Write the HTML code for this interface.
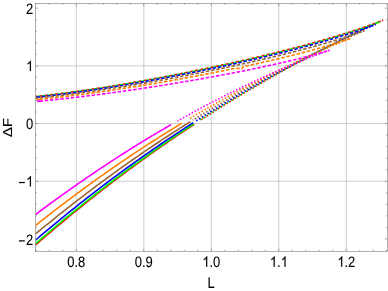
<!DOCTYPE html>
<html><head><meta charset="utf-8"><title>plot</title>
<style>
html,body{margin:0;padding:0;background:#fff;}
body{width:388px;height:291px;overflow:hidden;font-family:"Liberation Sans",sans-serif;}
svg{display:block;will-change:transform;}
tspan.h{fill:none;stroke:none;}
path.g1{fill:#000;stroke:#000;stroke-width:14;}
text{font-family:"Liberation Sans",sans-serif;font-size:15.1px;fill:#000;stroke:#000;stroke-width:0.1px;text-rendering:geometricPrecision;}
</style></head><body>
<svg width="388" height="291" viewBox="0 0 388 291">
<rect width="388" height="291" fill="#fff"/>
<g stroke="#bebebe" stroke-width="0.75" fill="none">
<line x1="76.30" x2="76.30" y1="3.5" y2="251.3"/>
<line x1="143.80" x2="143.80" y1="3.5" y2="251.3"/>
<line x1="211.30" x2="211.30" y1="3.5" y2="251.3"/>
<line x1="278.80" x2="278.80" y1="3.5" y2="251.3"/>
<line x1="346.30" x2="346.30" y1="3.5" y2="251.3"/>
<line x1="35.5" x2="387.3" y1="65.85" y2="65.85"/>
<line x1="35.5" x2="387.3" y1="123.55" y2="123.55"/>
<line x1="35.5" x2="387.3" y1="181.25" y2="181.25"/>
</g>
<clipPath id="cp"><rect x="35.5" y="3.5" width="351.8" height="247.8"/></clipPath>
<g fill="none" stroke-width="1.6" stroke-linejoin="round" clip-path="url(#cp)">
<path d="M35.50 244.93 L37.03 243.60 L38.55 242.28 L40.08 240.96 L41.60 239.64 L43.13 238.33 L44.66 237.02 L46.18 235.71 L47.71 234.41 L49.23 233.11 L50.76 231.81 L52.29 230.52 L53.81 229.22 L55.34 227.94 L56.86 226.65 L58.39 225.37 L59.92 224.09 L61.44 222.82 L62.97 221.55 L64.49 220.28 L66.02 219.02 L67.55 217.76 L69.07 216.50 L70.60 215.24 L72.12 213.99 L73.65 212.74 L75.17 211.50 L76.70 210.26 L78.23 209.02 L79.75 207.78 L81.28 206.55 L82.80 205.32 L84.33 204.10 L85.86 202.88 L87.38 201.66 L88.91 200.44 L90.43 199.23 L91.96 198.02 L93.49 196.82 L95.01 195.61 L96.54 194.41 L98.06 193.22 L99.59 192.03 L101.12 190.84 L102.64 189.65 L104.17 188.47 L105.69 187.29 L107.22 186.11 L108.75 184.94 L110.27 183.77 L111.80 182.60 L113.32 181.44 L114.85 180.28 L116.38 179.12 L117.90 177.97 L119.43 176.82 L120.95 175.67 L122.48 174.53 L124.01 173.38 L125.53 172.25 L127.06 171.11 L128.58 169.98 L130.11 168.85 L131.64 167.73 L133.16 166.61 L134.69 165.49 L136.21 164.37 L137.74 163.26 L139.27 162.15 L140.79 161.04 L142.32 159.94 L143.84 158.84 L145.37 157.74 L146.90 156.65 L148.42 155.56 L149.95 154.47 L151.47 153.39 L153.00 152.31 L154.52 151.23 L156.05 150.15 L157.58 149.08 L159.10 148.01 L160.63 146.95 L162.15 145.89 L163.68 144.83 L165.21 143.77 L166.73 142.72 L168.26 141.67 L169.78 140.62 L171.31 139.57 L172.84 138.53 L174.36 137.49 L175.89 136.46 L177.41 135.42 L178.94 134.40 L180.47 133.37 L181.99 132.35 L183.52 131.32 L185.04 130.31 L186.57 129.29 L188.10 128.28 L189.62 127.27 L191.15 126.26 L192.67 125.26 L194.20 124.26" stroke="#ff0000"/>
<path d="M201.20 119.71 L202.71 118.73 L204.23 117.76 L205.74 116.79 L207.26 115.82 L208.77 114.85 L210.29 113.89 L211.80 112.93 L213.32 111.97 L214.83 111.01 L216.35 110.06 L217.86 109.11 L219.38 108.16 L220.89 107.22 L222.41 106.28 L223.92 105.34 L225.44 104.40 L226.95 103.47 L228.47 102.54 L229.98 101.61 L231.50 100.68 L233.01 99.76 L234.53 98.84 L236.04 97.92 L237.56 97.01 L239.07 96.09 L240.59 95.18 L242.10 94.28 L243.62 93.37 L245.13 92.47 L246.65 91.57 L248.16 90.67 L249.68 89.77 L251.19 88.88 L252.71 87.99 L254.22 87.10 L255.74 86.22 L257.25 85.33 L258.77 84.45 L260.28 83.58 L261.80 82.70 L263.31 81.83 L264.83 80.96 L266.35 80.09 L267.86 79.22 L269.38 78.36 L270.89 77.50 L272.40 76.64 L273.92 75.78 L275.44 74.93 L276.95 74.07 L278.46 73.22 L279.98 72.38 L281.50 71.53 L283.01 70.69 L284.52 69.85 L286.04 69.01 L287.56 68.17 L289.07 67.34 L290.58 66.51 L292.10 65.68 L293.62 64.85 L295.13 64.03 L296.64 63.20 L298.16 62.38 L299.68 61.56 L301.19 60.75 L302.70 59.93 L304.22 59.12 L305.74 58.31 L307.25 57.51 L308.76 56.70 L310.28 55.90 L311.80 55.10 L313.31 54.30 L314.82 53.50 L316.34 52.71 L317.86 51.91 L319.37 51.12 L320.88 50.34 L322.40 49.55 L323.91 48.77 L325.43 47.98 L326.94 47.21 L328.46 46.43 L329.98 45.65 L331.49 44.88 L333.00 44.11 L334.52 43.34 L336.03 42.58 L337.55 41.81 L339.06 41.05 L340.58 40.29 L342.10 39.53 L343.61 38.78 L345.12 38.03 L346.64 37.28 L348.15 36.53 L349.67 35.78 L351.19 35.04 L352.70 34.30 L354.22 33.56 L355.73 32.83 L357.25 32.10 L358.76 31.37 L360.27 30.64 L361.79 29.91 L363.31 29.19 L364.82 28.48 L366.34 27.76 L367.85 27.05 L369.37 26.34 L370.88 25.64 L372.39 24.94 L373.91 24.24 L375.43 23.55 L376.94 22.87 L378.46 22.19 L379.97 21.51 L381.49 20.85 L383.00 20.20" stroke="#ff0000" stroke-dasharray="1.55 1.78" stroke-dashoffset="0"/>
<path d="M35.50 96.52 L37.01 96.36 L38.52 96.20 L40.03 96.03 L41.54 95.87 L43.05 95.70 L44.57 95.53 L46.08 95.35 L47.59 95.18 L49.10 95.00 L50.61 94.82 L52.12 94.64 L53.63 94.46 L55.14 94.27 L56.65 94.08 L58.16 93.89 L59.67 93.70 L61.18 93.51 L62.70 93.32 L64.21 93.12 L65.72 92.92 L67.23 92.72 L68.74 92.52 L70.25 92.32 L71.76 92.11 L73.27 91.90 L74.78 91.70 L76.29 91.48 L77.80 91.27 L79.32 91.06 L80.83 90.84 L82.34 90.63 L83.85 90.41 L85.36 90.19 L86.87 89.97 L88.38 89.74 L89.89 89.52 L91.40 89.29 L92.91 89.07 L94.42 88.84 L95.93 88.61 L97.45 88.37 L98.96 88.14 L100.47 87.90 L101.98 87.67 L103.49 87.43 L105.00 87.19 L106.51 86.95 L108.02 86.71 L109.53 86.47 L111.04 86.22 L112.55 85.97 L114.07 85.73 L115.58 85.48 L117.09 85.23 L118.60 84.98 L120.11 84.73 L121.62 84.47 L123.13 84.22 L124.64 83.96 L126.15 83.70 L127.66 83.44 L129.17 83.18 L130.68 82.92 L132.20 82.66 L133.71 82.40 L135.22 82.13 L136.73 81.87 L138.24 81.60 L139.75 81.33 L141.26 81.06 L142.77 80.79 L144.28 80.52 L145.79 80.25 L147.30 79.97 L148.82 79.70 L150.33 79.42 L151.84 79.14 L153.35 78.86 L154.86 78.58 L156.37 78.30 L157.88 78.02 L159.39 77.74 L160.90 77.45 L162.41 77.17 L163.92 76.88 L165.43 76.60 L166.95 76.31 L168.46 76.02 L169.97 75.73 L171.48 75.44 L172.99 75.14 L174.50 74.85 L176.01 74.56 L177.52 74.26 L179.03 73.96 L180.54 73.67 L182.05 73.37 L183.57 73.07 L185.08 72.77 L186.59 72.47 L188.10 72.16 L189.61 71.86 L191.12 71.55 L192.63 71.25 L194.14 70.94 L195.65 70.63 L197.16 70.32 L198.67 70.01 L200.18 69.70 L201.70 69.39 L203.21 69.08 L204.72 68.76 L206.23 68.45 L207.74 68.13 L209.25 67.81 L210.76 67.49 L212.27 67.17 L213.78 66.85 L215.29 66.53 L216.80 66.21 L218.32 65.88 L219.83 65.56 L221.34 65.23 L222.85 64.90 L224.36 64.57 L225.87 64.24 L227.38 63.91 L228.89 63.58 L230.40 63.25 L231.91 62.91 L233.42 62.58 L234.93 62.24 L236.45 61.90 L237.96 61.56 L239.47 61.22 L240.98 60.88 L242.49 60.54 L244.00 60.20 L245.51 59.85 L247.02 59.50 L248.53 59.16 L250.04 58.81 L251.55 58.46 L253.07 58.11 L254.58 57.75 L256.09 57.40 L257.60 57.04 L259.11 56.69 L260.62 56.33 L262.13 55.97 L263.64 55.61 L265.15 55.24 L266.66 54.88 L268.17 54.52 L269.68 54.15 L271.20 53.78 L272.71 53.41 L274.22 53.04 L275.73 52.67 L277.24 52.29 L278.75 51.92 L280.26 51.54 L281.77 51.16 L283.28 50.78 L284.79 50.40 L286.30 50.01 L287.82 49.63 L289.33 49.24 L290.84 48.85 L292.35 48.46 L293.86 48.07 L295.37 47.67 L296.88 47.27 L298.39 46.88 L299.90 46.48 L301.41 46.07 L302.92 45.67 L304.43 45.26 L305.95 44.86 L307.46 44.45 L308.97 44.03 L310.48 43.62 L311.99 43.20 L313.50 42.78 L315.01 42.36 L316.52 41.94 L318.03 41.52 L319.54 41.09 L321.05 40.66 L322.57 40.23 L324.08 39.79 L325.59 39.35 L327.10 38.91 L328.61 38.47 L330.12 38.03 L331.63 37.58 L333.14 37.13 L334.65 36.68 L336.16 36.22 L337.67 35.76 L339.18 35.30 L340.70 34.84 L342.21 34.37 L343.72 33.90 L345.23 33.43 L346.74 32.95 L348.25 32.47 L349.76 31.98 L351.27 31.50 L352.78 31.01 L354.29 30.51 L355.80 30.01 L357.32 29.51 L358.83 29.01 L360.34 28.50 L361.85 27.98 L363.36 27.46 L364.87 26.94 L366.38 26.41 L367.89 25.88 L369.40 25.34 L370.91 24.80 L372.42 24.25 L373.93 23.70 L375.45 23.14 L376.96 22.57 L378.47 21.99 L379.98 21.41 L381.49 20.81 L383.00 20.20" stroke="#ff0000" stroke-dasharray="3.5 1.75" stroke-dashoffset="1.44"/>
<path d="M35.50 243.71 L37.02 242.39 L38.54 241.08 L40.07 239.77 L41.59 238.46 L43.11 237.15 L44.63 235.85 L46.15 234.55 L47.68 233.25 L49.20 231.96 L50.72 230.67 L52.24 229.38 L53.77 228.10 L55.29 226.82 L56.81 225.54 L58.33 224.27 L59.85 223.00 L61.38 221.73 L62.90 220.47 L64.42 219.21 L65.94 217.95 L67.46 216.70 L68.99 215.45 L70.51 214.20 L72.03 212.96 L73.55 211.71 L75.08 210.48 L76.60 209.24 L78.12 208.01 L79.64 206.78 L81.16 205.56 L82.69 204.34 L84.21 203.12 L85.73 201.91 L87.25 200.70 L88.77 199.49 L90.30 198.28 L91.82 197.08 L93.34 195.88 L94.86 194.69 L96.38 193.50 L97.91 192.31 L99.43 191.12 L100.95 189.94 L102.47 188.76 L104.00 187.59 L105.52 186.41 L107.04 185.25 L108.56 184.08 L110.08 182.92 L111.61 181.76 L113.13 180.60 L114.65 179.45 L116.17 178.30 L117.69 177.15 L119.22 176.01 L120.74 174.87 L122.26 173.73 L123.78 172.60 L125.30 171.47 L126.83 170.34 L128.35 169.22 L129.87 168.10 L131.39 166.98 L132.92 165.87 L134.44 164.75 L135.96 163.65 L137.48 162.54 L139.00 161.44 L140.53 160.34 L142.05 159.25 L143.57 158.15 L145.09 157.06 L146.61 155.98 L148.14 154.90 L149.66 153.82 L151.18 152.74 L152.70 151.66 L154.23 150.59 L155.75 149.53 L157.27 148.46 L158.79 147.40 L160.31 146.34 L161.84 145.29 L163.36 144.24 L164.88 143.19 L166.40 142.14 L167.92 141.10 L169.45 140.06 L170.97 139.02 L172.49 137.99 L174.01 136.96 L175.53 135.93 L177.06 134.90 L178.58 133.88 L180.10 132.86 L181.62 131.85 L183.15 130.83 L184.67 129.82 L186.19 128.82 L187.71 127.81 L189.23 126.81 L190.76 125.81 L192.28 124.82 L193.80 123.82" stroke="#00ff00"/>
<path d="M199.20 120.33 L200.72 119.35 L202.24 118.37 L203.76 117.40 L205.28 116.43 L206.80 115.47 L208.32 114.50 L209.84 113.54 L211.36 112.58 L212.87 111.63 L214.39 110.68 L215.91 109.73 L217.43 108.78 L218.95 107.84 L220.47 106.89 L221.99 105.96 L223.51 105.02 L225.03 104.09 L226.55 103.16 L228.07 102.23 L229.59 101.30 L231.11 100.38 L232.63 99.46 L234.15 98.54 L235.67 97.63 L237.19 96.72 L238.70 95.81 L240.22 94.90 L241.74 93.99 L243.26 93.09 L244.78 92.19 L246.30 91.30 L247.82 90.40 L249.34 89.51 L250.86 88.62 L252.38 87.74 L253.90 86.85 L255.42 85.97 L256.94 85.09 L258.46 84.21 L259.98 83.34 L261.50 82.47 L263.02 81.60 L264.53 80.73 L266.05 79.87 L267.57 79.01 L269.09 78.15 L270.61 77.29 L272.13 76.44 L273.65 75.58 L275.17 74.73 L276.69 73.89 L278.21 73.04 L279.73 72.20 L281.25 71.36 L282.77 70.52 L284.29 69.69 L285.81 68.85 L287.33 68.02 L288.85 67.19 L290.36 66.37 L291.88 65.54 L293.40 64.72 L294.92 63.90 L296.44 63.08 L297.96 62.27 L299.48 61.45 L301.00 60.64 L302.52 59.84 L304.04 59.03 L305.56 58.23 L307.08 57.42 L308.60 56.62 L310.12 55.83 L311.64 55.03 L313.16 54.24 L314.68 53.45 L316.19 52.66 L317.71 51.87 L319.23 51.09 L320.75 50.31 L322.27 49.53 L323.79 48.75 L325.31 47.98 L326.83 47.21 L328.35 46.43 L329.87 45.67 L331.39 44.90 L332.91 44.14 L334.43 43.38 L335.95 42.62 L337.47 41.86 L338.99 41.11 L340.50 40.36 L342.02 39.61 L343.54 38.86 L345.06 38.11 L346.58 37.37 L348.10 36.63 L349.62 35.90 L351.14 35.16 L352.66 34.43 L354.18 33.70 L355.70 32.98 L357.22 32.25 L358.74 31.53 L360.26 30.82 L361.78 30.10 L363.30 29.39 L364.82 28.68 L366.33 27.98 L367.85 27.28 L369.37 26.59 L370.89 25.89 L372.41 25.21 L373.93 24.53 L375.45 23.85 L376.97 23.18 L378.49 22.53 L380.01 21.88" stroke="#00ff00" stroke-dasharray="1.55 1.78" stroke-dashoffset="2.3"/>
<path d="M35.50 96.73 L37.01 96.57 L38.52 96.40 L40.03 96.24 L41.54 96.07 L43.06 95.91 L44.57 95.74 L46.08 95.56 L47.59 95.39 L49.10 95.21 L50.61 95.03 L52.12 94.85 L53.63 94.67 L55.14 94.49 L56.65 94.30 L58.17 94.11 L59.68 93.93 L61.19 93.73 L62.70 93.54 L64.21 93.35 L65.72 93.15 L67.23 92.95 L68.74 92.75 L70.25 92.55 L71.76 92.34 L73.28 92.14 L74.79 91.93 L76.30 91.72 L77.81 91.51 L79.32 91.30 L80.83 91.09 L82.34 90.87 L83.85 90.65 L85.36 90.44 L86.87 90.22 L88.39 89.99 L89.90 89.77 L91.41 89.55 L92.92 89.32 L94.43 89.09 L95.94 88.86 L97.45 88.63 L98.96 88.40 L100.47 88.17 L101.98 87.93 L103.50 87.70 L105.01 87.46 L106.52 87.22 L108.03 86.98 L109.54 86.74 L111.05 86.50 L112.56 86.25 L114.07 86.01 L115.58 85.76 L117.09 85.51 L118.61 85.26 L120.12 85.01 L121.63 84.76 L123.14 84.51 L124.65 84.25 L126.16 84.00 L127.67 83.74 L129.18 83.48 L130.69 83.22 L132.20 82.96 L133.72 82.70 L135.23 82.44 L136.74 82.17 L138.25 81.91 L139.76 81.64 L141.27 81.37 L142.78 81.11 L144.29 80.84 L145.80 80.56 L147.31 80.29 L148.83 80.02 L150.34 79.75 L151.85 79.47 L153.36 79.19 L154.87 78.92 L156.38 78.64 L157.89 78.36 L159.40 78.08 L160.91 77.80 L162.42 77.51 L163.94 77.23 L165.45 76.94 L166.96 76.66 L168.47 76.37 L169.98 76.08 L171.49 75.79 L173.00 75.50 L174.51 75.21 L176.02 74.92 L177.53 74.63 L179.05 74.33 L180.56 74.04 L182.07 73.74 L183.58 73.44 L185.09 73.14 L186.60 72.84 L188.11 72.54 L189.62 72.24 L191.13 71.94 L192.64 71.63 L194.16 71.33 L195.67 71.02 L197.18 70.72 L198.69 70.41 L200.20 70.10 L201.71 69.79 L203.22 69.48 L204.73 69.17 L206.24 68.85 L207.75 68.54 L209.27 68.22 L210.78 67.91 L212.29 67.59 L213.80 67.27 L215.31 66.95 L216.82 66.63 L218.33 66.31 L219.84 65.98 L221.35 65.66 L222.86 65.34 L224.38 65.01 L225.89 64.68 L227.40 64.35 L228.91 64.02 L230.42 63.69 L231.93 63.36 L233.44 63.03 L234.95 62.69 L236.46 62.36 L237.97 62.02 L239.49 61.68 L241.00 61.34 L242.51 61.00 L244.02 60.66 L245.53 60.32 L247.04 59.97 L248.55 59.63 L250.06 59.28 L251.57 58.93 L253.09 58.58 L254.60 58.23 L256.11 57.88 L257.62 57.53 L259.13 57.17 L260.64 56.82 L262.15 56.46 L263.66 56.10 L265.17 55.74 L266.68 55.38 L268.20 55.02 L269.71 54.65 L271.22 54.28 L272.73 53.92 L274.24 53.55 L275.75 53.18 L277.26 52.80 L278.77 52.43 L280.28 52.05 L281.79 51.68 L283.31 51.30 L284.82 50.92 L286.33 50.54 L287.84 50.15 L289.35 49.77 L290.86 49.38 L292.37 48.99 L293.88 48.60 L295.39 48.21 L296.90 47.81 L298.42 47.42 L299.93 47.02 L301.44 46.62 L302.95 46.21 L304.46 45.81 L305.97 45.40 L307.48 44.99 L308.99 44.58 L310.50 44.17 L312.01 43.76 L313.53 43.34 L315.04 42.92 L316.55 42.50 L318.06 42.07 L319.57 41.65 L321.08 41.22 L322.59 40.79 L324.10 40.35 L325.61 39.92 L327.12 39.48 L328.64 39.04 L330.15 38.59 L331.66 38.15 L333.17 37.70 L334.68 37.24 L336.19 36.79 L337.70 36.33 L339.21 35.87 L340.72 35.41 L342.23 34.94 L343.75 34.47 L345.26 33.99 L346.77 33.52 L348.28 33.04 L349.79 32.55 L351.30 32.06 L352.81 31.57 L354.32 31.08 L355.83 30.58 L357.34 30.07 L358.86 29.57 L360.37 29.06 L361.88 28.54 L363.39 28.02 L364.90 27.49 L366.41 26.96 L367.92 26.43 L369.43 25.88 L370.94 25.34 L372.45 24.78 L373.97 24.22 L375.48 23.65 L376.99 23.07 L378.50 22.48 L380.01 21.88" stroke="#00ff00" stroke-dasharray="3.5 1.75" stroke-dashoffset="3.95"/>
<path d="M35.50 240.07 L37.02 238.78 L38.53 237.49 L40.05 236.21 L41.57 234.93 L43.08 233.65 L44.60 232.37 L46.11 231.10 L47.63 229.84 L49.15 228.57 L50.66 227.31 L52.18 226.05 L53.70 224.80 L55.21 223.54 L56.73 222.30 L58.25 221.05 L59.76 219.81 L61.28 218.57 L62.79 217.33 L64.31 216.10 L65.83 214.87 L67.34 213.64 L68.86 212.42 L70.38 211.20 L71.89 209.98 L73.41 208.77 L74.92 207.56 L76.44 206.35 L77.96 205.14 L79.47 203.94 L80.99 202.74 L82.51 201.55 L84.02 200.36 L85.54 199.17 L87.06 197.98 L88.57 196.80 L90.09 195.62 L91.60 194.45 L93.12 193.27 L94.64 192.11 L96.15 190.94 L97.67 189.78 L99.19 188.62 L100.70 187.46 L102.22 186.30 L103.74 185.15 L105.25 184.01 L106.77 182.86 L108.28 181.72 L109.80 180.58 L111.32 179.45 L112.83 178.32 L114.35 177.19 L115.87 176.06 L117.38 174.94 L118.90 173.82 L120.42 172.71 L121.93 171.59 L123.45 170.48 L124.96 169.38 L126.48 168.27 L128.00 167.17 L129.51 166.08 L131.03 164.98 L132.55 163.89 L134.06 162.80 L135.58 161.72 L137.10 160.64 L138.61 159.56 L140.13 158.48 L141.64 157.41 L143.16 156.34 L144.68 155.27 L146.19 154.21 L147.71 153.15 L149.23 152.09 L150.74 151.04 L152.26 149.99 L153.77 148.94 L155.29 147.89 L156.81 146.85 L158.32 145.81 L159.84 144.77 L161.36 143.74 L162.87 142.71 L164.39 141.68 L165.91 140.66 L167.42 139.64 L168.94 138.62 L170.45 137.60 L171.97 136.59 L173.49 135.58 L175.00 134.58 L176.52 133.57 L178.04 132.57 L179.55 131.57 L181.07 130.58 L182.59 129.59 L184.10 128.60 L185.62 127.61 L187.13 126.63 L188.65 125.65 L190.17 124.67 L191.68 123.69 L193.20 122.72" stroke="#0000ff"/>
<path d="M195.60 121.19 L197.13 120.22 L198.65 119.25 L200.18 118.29 L201.70 117.33 L203.23 116.37 L204.75 115.41 L206.28 114.46 L207.80 113.51 L209.33 112.56 L210.85 111.61 L212.38 110.67 L213.90 109.73 L215.43 108.79 L216.95 107.86 L218.48 106.93 L220.00 106.00 L221.53 105.07 L223.05 104.15 L224.58 103.23 L226.10 102.31 L227.63 101.40 L229.16 100.48 L230.68 99.57 L232.21 98.67 L233.73 97.76 L235.26 96.86 L236.78 95.96 L238.31 95.06 L239.83 94.17 L241.36 93.28 L242.88 92.39 L244.41 91.50 L245.93 90.62 L247.46 89.74 L248.98 88.86 L250.51 87.98 L252.03 87.11 L253.56 86.24 L255.08 85.37 L256.61 84.50 L258.13 83.64 L259.66 82.78 L261.18 81.92 L262.71 81.06 L264.24 80.21 L265.76 79.35 L267.29 78.50 L268.81 77.66 L270.34 76.81 L271.86 75.97 L273.39 75.13 L274.91 74.29 L276.44 73.46 L277.96 72.63 L279.49 71.80 L281.01 70.97 L282.54 70.14 L284.06 69.32 L285.59 68.50 L287.11 67.68 L288.64 66.86 L290.16 66.05 L291.69 65.24 L293.21 64.43 L294.74 63.62 L296.27 62.82 L297.79 62.01 L299.32 61.21 L300.84 60.41 L302.37 59.62 L303.89 58.82 L305.42 58.03 L306.94 57.24 L308.47 56.46 L309.99 55.67 L311.52 54.89 L313.04 54.11 L314.57 53.33 L316.09 52.56 L317.62 51.78 L319.14 51.01 L320.67 50.24 L322.19 49.48 L323.72 48.71 L325.24 47.95 L326.77 47.19 L328.30 46.43 L329.82 45.68 L331.35 44.93 L332.87 44.18 L334.40 43.43 L335.92 42.68 L337.45 41.94 L338.97 41.20 L340.50 40.46 L342.02 39.72 L343.55 38.99 L345.07 38.26 L346.60 37.53 L348.12 36.81 L349.65 36.08 L351.17 35.36 L352.70 34.65 L354.22 33.93 L355.75 33.22 L357.27 32.52 L358.80 31.81 L360.33 31.11 L361.85 30.41 L363.38 29.72 L364.90 29.03 L366.43 28.35 L367.95 27.67 L369.48 26.99 L371.00 26.32 L372.53 25.66 L374.05 25.01 L375.58 24.37" stroke="#0000ff" stroke-dasharray="1.55 1.78" stroke-dashoffset="2.6"/>
<path d="M35.50 97.33 L37.01 97.17 L38.52 97.01 L40.03 96.85 L41.55 96.68 L43.06 96.52 L44.57 96.35 L46.08 96.18 L47.59 96.01 L49.10 95.83 L50.61 95.66 L52.13 95.48 L53.64 95.30 L55.15 95.12 L56.66 94.93 L58.17 94.75 L59.68 94.56 L61.19 94.37 L62.71 94.18 L64.22 93.99 L65.73 93.79 L67.24 93.59 L68.75 93.40 L70.26 93.20 L71.77 92.99 L73.29 92.79 L74.80 92.59 L76.31 92.38 L77.82 92.17 L79.33 91.96 L80.84 91.75 L82.36 91.54 L83.87 91.32 L85.38 91.11 L86.89 90.89 L88.40 90.67 L89.91 90.45 L91.42 90.23 L92.94 90.00 L94.45 89.78 L95.96 89.55 L97.47 89.32 L98.98 89.09 L100.49 88.86 L102.00 88.63 L103.52 88.40 L105.03 88.16 L106.54 87.93 L108.05 87.69 L109.56 87.45 L111.07 87.21 L112.58 86.97 L114.10 86.72 L115.61 86.48 L117.12 86.23 L118.63 85.99 L120.14 85.74 L121.65 85.49 L123.16 85.24 L124.68 84.99 L126.19 84.73 L127.70 84.48 L129.21 84.22 L130.72 83.97 L132.23 83.71 L133.74 83.45 L135.26 83.19 L136.77 82.93 L138.28 82.67 L139.79 82.40 L141.30 82.14 L142.81 81.87 L144.32 81.60 L145.84 81.34 L147.35 81.07 L148.86 80.80 L150.37 80.52 L151.88 80.25 L153.39 79.98 L154.90 79.70 L156.42 79.43 L157.93 79.15 L159.44 78.87 L160.95 78.59 L162.46 78.31 L163.97 78.03 L165.49 77.75 L167.00 77.47 L168.51 77.18 L170.02 76.90 L171.53 76.61 L173.04 76.32 L174.55 76.03 L176.07 75.74 L177.58 75.45 L179.09 75.16 L180.60 74.87 L182.11 74.57 L183.62 74.28 L185.13 73.98 L186.65 73.68 L188.16 73.39 L189.67 73.09 L191.18 72.79 L192.69 72.48 L194.20 72.18 L195.71 71.88 L197.23 71.57 L198.74 71.27 L200.25 70.96 L201.76 70.65 L203.27 70.34 L204.78 70.03 L206.29 69.72 L207.81 69.41 L209.32 69.10 L210.83 68.78 L212.34 68.47 L213.85 68.15 L215.36 67.83 L216.87 67.52 L218.39 67.20 L219.90 66.88 L221.41 66.55 L222.92 66.23 L224.43 65.91 L225.94 65.58 L227.45 65.25 L228.97 64.93 L230.48 64.60 L231.99 64.27 L233.50 63.94 L235.01 63.60 L236.52 63.27 L238.03 62.93 L239.55 62.60 L241.06 62.26 L242.57 61.92 L244.08 61.58 L245.59 61.24 L247.10 60.90 L248.62 60.55 L250.13 60.21 L251.64 59.86 L253.15 59.51 L254.66 59.16 L256.17 58.81 L257.68 58.46 L259.20 58.11 L260.71 57.75 L262.22 57.40 L263.73 57.04 L265.24 56.68 L266.75 56.32 L268.26 55.96 L269.78 55.59 L271.29 55.23 L272.80 54.86 L274.31 54.49 L275.82 54.12 L277.33 53.75 L278.84 53.38 L280.36 53.00 L281.87 52.63 L283.38 52.25 L284.89 51.87 L286.40 51.49 L287.91 51.10 L289.42 50.72 L290.94 50.33 L292.45 49.94 L293.96 49.55 L295.47 49.16 L296.98 48.76 L298.49 48.37 L300.00 47.97 L301.52 47.57 L303.03 47.17 L304.54 46.76 L306.05 46.35 L307.56 45.94 L309.07 45.53 L310.58 45.12 L312.10 44.70 L313.61 44.29 L315.12 43.87 L316.63 43.44 L318.14 43.02 L319.65 42.59 L321.17 42.16 L322.68 41.73 L324.19 41.29 L325.70 40.85 L327.21 40.41 L328.72 39.97 L330.23 39.52 L331.75 39.08 L333.26 38.62 L334.77 38.17 L336.28 37.71 L337.79 37.25 L339.30 36.79 L340.81 36.32 L342.33 35.85 L343.84 35.37 L345.35 34.90 L346.86 34.42 L348.37 33.93 L349.88 33.44 L351.39 32.95 L352.91 32.45 L354.42 31.95 L355.93 31.45 L357.44 30.94 L358.95 30.43 L360.46 29.91 L361.97 29.38 L363.49 28.85 L365.00 28.32 L366.51 27.78 L368.02 27.23 L369.53 26.68 L371.04 26.12 L372.55 25.55 L374.07 24.97 L375.58 24.37" stroke="#0000ff" stroke-dasharray="3.5 1.75" stroke-dashoffset="4.26"/>
<path d="M35.50 233.99 L37.02 232.73 L38.54 231.48 L40.05 230.22 L41.57 228.98 L43.09 227.73 L44.61 226.49 L46.12 225.25 L47.64 224.01 L49.16 222.78 L50.68 221.55 L52.19 220.32 L53.71 219.10 L55.23 217.88 L56.75 216.66 L58.26 215.44 L59.78 214.23 L61.30 213.03 L62.82 211.82 L64.34 210.62 L65.85 209.42 L67.37 208.22 L68.89 207.03 L70.41 205.84 L71.92 204.66 L73.44 203.47 L74.96 202.29 L76.48 201.12 L77.99 199.94 L79.51 198.77 L81.03 197.60 L82.55 196.44 L84.06 195.28 L85.58 194.12 L87.10 192.97 L88.62 191.81 L90.14 190.66 L91.65 189.52 L93.17 188.38 L94.69 187.24 L96.21 186.10 L97.72 184.97 L99.24 183.84 L100.76 182.71 L102.28 181.59 L103.79 180.47 L105.31 179.35 L106.83 178.24 L108.35 177.13 L109.86 176.02 L111.38 174.92 L112.90 173.81 L114.42 172.72 L115.94 171.62 L117.45 170.53 L118.97 169.44 L120.49 168.35 L122.01 167.27 L123.52 166.19 L125.04 165.11 L126.56 164.04 L128.08 162.97 L129.59 161.90 L131.11 160.84 L132.63 159.78 L134.15 158.72 L135.66 157.67 L137.18 156.61 L138.70 155.57 L140.22 154.52 L141.74 153.48 L143.25 152.44 L144.77 151.40 L146.29 150.37 L147.81 149.34 L149.32 148.31 L150.84 147.29 L152.36 146.27 L153.88 145.25 L155.39 144.23 L156.91 143.22 L158.43 142.21 L159.95 141.21 L161.46 140.20 L162.98 139.20 L164.50 138.21 L166.02 137.21 L167.54 136.22 L169.05 135.23 L170.57 134.25 L172.09 133.27 L173.61 132.29 L175.12 131.31 L176.64 130.34 L178.16 129.37 L179.68 128.40 L181.19 127.44 L182.71 126.47 L184.23 125.52 L185.75 124.56 L187.26 123.61 L188.78 122.66 L190.30 121.71" stroke="#996633"/>
<path d="M192.60 120.28 L194.12 119.34 L195.64 118.40 L197.16 117.46 L198.69 116.53 L200.21 115.60 L201.73 114.67 L203.25 113.75 L204.77 112.82 L206.29 111.90 L207.81 110.99 L209.34 110.07 L210.86 109.16 L212.38 108.25 L213.90 107.35 L215.42 106.45 L216.94 105.55 L218.46 104.65 L219.99 103.75 L221.51 102.86 L223.03 101.97 L224.55 101.09 L226.07 100.20 L227.59 99.32 L229.11 98.45 L230.64 97.57 L232.16 96.70 L233.68 95.83 L235.20 94.96 L236.72 94.09 L238.24 93.23 L239.76 92.37 L241.29 91.52 L242.81 90.66 L244.33 89.81 L245.85 88.96 L247.37 88.11 L248.89 87.27 L250.42 86.43 L251.94 85.59 L253.46 84.75 L254.98 83.92 L256.50 83.09 L258.02 82.26 L259.54 81.43 L261.07 80.61 L262.59 79.79 L264.11 78.97 L265.63 78.15 L267.15 77.34 L268.67 76.53 L270.19 75.72 L271.72 74.91 L273.24 74.11 L274.76 73.31 L276.28 72.51 L277.80 71.71 L279.32 70.92 L280.84 70.13 L282.37 69.34 L283.89 68.55 L285.41 67.77 L286.93 66.98 L288.45 66.20 L289.97 65.43 L291.49 64.65 L293.02 63.88 L294.54 63.11 L296.06 62.34 L297.58 61.58 L299.10 60.81 L300.62 60.05 L302.14 59.29 L303.67 58.54 L305.19 57.79 L306.71 57.03 L308.23 56.29 L309.75 55.54 L311.27 54.80 L312.79 54.06 L314.32 53.32 L315.84 52.58 L317.36 51.85 L318.88 51.11 L320.40 50.39 L321.92 49.66 L323.44 48.94 L324.97 48.21 L326.49 47.49 L328.01 46.78 L329.53 46.06 L331.05 45.35 L332.57 44.65 L334.09 43.94 L335.62 43.24 L337.14 42.54 L338.66 41.84 L340.18 41.15 L341.70 40.46 L343.22 39.77 L344.74 39.08 L346.27 38.40 L347.79 37.72 L349.31 37.05 L350.83 36.38 L352.35 35.71 L353.87 35.05 L355.39 34.39 L356.92 33.74 L358.44 33.09 L359.96 32.45 L361.48 31.82 L363.00 31.19 L364.52 30.58" stroke="#996633" stroke-dasharray="1.55 1.78" stroke-dashoffset="0.9"/>
<path d="M35.50 98.34 L37.01 98.18 L38.52 98.03 L40.03 97.87 L41.54 97.71 L43.05 97.55 L44.56 97.39 L46.06 97.22 L47.57 97.06 L49.08 96.89 L50.59 96.72 L52.10 96.54 L53.61 96.37 L55.12 96.19 L56.63 96.01 L58.14 95.83 L59.65 95.65 L61.16 95.47 L62.67 95.28 L64.18 95.10 L65.69 94.91 L67.19 94.72 L68.70 94.53 L70.21 94.33 L71.72 94.14 L73.23 93.94 L74.74 93.74 L76.25 93.54 L77.76 93.34 L79.27 93.14 L80.78 92.93 L82.29 92.73 L83.80 92.52 L85.31 92.31 L86.82 92.10 L88.32 91.89 L89.83 91.67 L91.34 91.46 L92.85 91.24 L94.36 91.02 L95.87 90.80 L97.38 90.58 L98.89 90.36 L100.40 90.14 L101.91 89.91 L103.42 89.69 L104.93 89.46 L106.44 89.23 L107.95 89.00 L109.45 88.77 L110.96 88.53 L112.47 88.30 L113.98 88.07 L115.49 87.83 L117.00 87.59 L118.51 87.35 L120.02 87.11 L121.53 86.87 L123.04 86.63 L124.55 86.38 L126.06 86.14 L127.57 85.89 L129.08 85.65 L130.58 85.40 L132.09 85.15 L133.60 84.90 L135.11 84.64 L136.62 84.39 L138.13 84.14 L139.64 83.88 L141.15 83.63 L142.66 83.37 L144.17 83.11 L145.68 82.85 L147.19 82.59 L148.70 82.33 L150.21 82.06 L151.71 81.80 L153.22 81.53 L154.73 81.27 L156.24 81.00 L157.75 80.73 L159.26 80.46 L160.77 80.19 L162.28 79.92 L163.79 79.65 L165.30 79.38 L166.81 79.10 L168.32 78.82 L169.83 78.55 L171.34 78.27 L172.84 77.99 L174.35 77.71 L175.86 77.43 L177.37 77.15 L178.88 76.87 L180.39 76.58 L181.90 76.30 L183.41 76.01 L184.92 75.72 L186.43 75.44 L187.94 75.15 L189.45 74.86 L190.96 74.56 L192.47 74.27 L193.97 73.98 L195.48 73.68 L196.99 73.39 L198.50 73.09 L200.01 72.79 L201.52 72.50 L203.03 72.20 L204.54 71.89 L206.05 71.59 L207.56 71.29 L209.07 70.99 L210.58 70.68 L212.09 70.37 L213.60 70.07 L215.10 69.76 L216.61 69.45 L218.12 69.14 L219.63 68.83 L221.14 68.51 L222.65 68.20 L224.16 67.88 L225.67 67.57 L227.18 67.25 L228.69 66.93 L230.20 66.61 L231.71 66.29 L233.22 65.97 L234.73 65.64 L236.23 65.32 L237.74 64.99 L239.25 64.66 L240.76 64.33 L242.27 64.00 L243.78 63.67 L245.29 63.34 L246.80 63.00 L248.31 62.67 L249.82 62.33 L251.33 61.99 L252.84 61.65 L254.35 61.31 L255.86 60.97 L257.36 60.63 L258.87 60.28 L260.38 59.94 L261.89 59.59 L263.40 59.24 L264.91 58.89 L266.42 58.53 L267.93 58.18 L269.44 57.82 L270.95 57.47 L272.46 57.11 L273.97 56.74 L275.48 56.38 L276.99 56.02 L278.49 55.65 L280.00 55.28 L281.51 54.91 L283.02 54.54 L284.53 54.17 L286.04 53.80 L287.55 53.42 L289.06 53.04 L290.57 52.66 L292.08 52.28 L293.59 51.89 L295.10 51.51 L296.61 51.12 L298.12 50.73 L299.62 50.33 L301.13 49.94 L302.64 49.54 L304.15 49.14 L305.66 48.74 L307.17 48.34 L308.68 47.93 L310.19 47.52 L311.70 47.11 L313.21 46.70 L314.72 46.28 L316.23 45.86 L317.74 45.44 L319.25 45.01 L320.75 44.59 L322.26 44.16 L323.77 43.73 L325.28 43.29 L326.79 42.85 L328.30 42.41 L329.81 41.97 L331.32 41.52 L332.83 41.07 L334.34 40.61 L335.85 40.15 L337.36 39.69 L338.87 39.23 L340.38 38.76 L341.88 38.29 L343.39 37.81 L344.90 37.33 L346.41 36.85 L347.92 36.36 L349.43 35.86 L350.94 35.36 L352.45 34.86 L353.96 34.35 L355.47 33.83 L356.98 33.31 L358.49 32.78 L360.00 32.25 L361.51 31.70 L363.01 31.15 L364.52 30.58" stroke="#996633" stroke-dasharray="3.5 1.75" stroke-dashoffset="0.72"/>
<path d="M35.50 225.48 L37.02 224.27 L38.55 223.06 L40.07 221.86 L41.60 220.66 L43.12 219.46 L44.64 218.27 L46.17 217.08 L47.69 215.89 L49.22 214.71 L50.74 213.52 L52.26 212.34 L53.79 211.17 L55.31 209.99 L56.84 208.82 L58.36 207.66 L59.88 206.49 L61.41 205.33 L62.93 204.17 L64.46 203.02 L65.98 201.86 L67.50 200.71 L69.03 199.57 L70.55 198.43 L72.08 197.29 L73.60 196.15 L75.12 195.01 L76.65 193.88 L78.17 192.76 L79.69 191.63 L81.22 190.51 L82.74 189.39 L84.27 188.27 L85.79 187.16 L87.31 186.05 L88.84 184.95 L90.36 183.84 L91.89 182.74 L93.41 181.65 L94.93 180.55 L96.46 179.46 L97.98 178.37 L99.51 177.29 L101.03 176.21 L102.55 175.13 L104.08 174.05 L105.60 172.98 L107.13 171.91 L108.65 170.84 L110.17 169.78 L111.70 168.72 L113.22 167.66 L114.75 166.61 L116.27 165.56 L117.79 164.51 L119.32 163.46 L120.84 162.42 L122.37 161.38 L123.89 160.35 L125.41 159.32 L126.94 158.29 L128.46 157.26 L129.99 156.24 L131.51 155.22 L133.03 154.20 L134.56 153.18 L136.08 152.17 L137.61 151.17 L139.13 150.16 L140.65 149.16 L142.18 148.16 L143.70 147.16 L145.23 146.17 L146.75 145.18 L148.27 144.19 L149.80 143.21 L151.32 142.23 L152.84 141.25 L154.37 140.28 L155.89 139.31 L157.42 138.34 L158.94 137.37 L160.46 136.41 L161.99 135.45 L163.51 134.49 L165.04 133.54 L166.56 132.59 L168.08 131.64 L169.61 130.70 L171.13 129.76 L172.66 128.82 L174.18 127.88 L175.70 126.95 L177.23 126.02 L178.75 125.09 L180.28 124.17 L181.80 123.25" stroke="#ff8000"/>
<path d="M188.70 119.11 L190.23 118.21 L191.75 117.31 L193.28 116.41 L194.80 115.51 L196.33 114.61 L197.86 113.72 L199.38 112.83 L200.91 111.95 L202.44 111.06 L203.96 110.18 L205.49 109.31 L207.01 108.43 L208.54 107.56 L210.07 106.69 L211.59 105.83 L213.12 104.96 L214.65 104.10 L216.17 103.24 L217.70 102.39 L219.22 101.54 L220.75 100.69 L222.28 99.84 L223.80 99.00 L225.33 98.16 L226.86 97.32 L228.38 96.48 L229.91 95.65 L231.43 94.82 L232.96 93.99 L234.49 93.17 L236.01 92.35 L237.54 91.53 L239.07 90.71 L240.59 89.90 L242.12 89.09 L243.64 88.28 L245.17 87.47 L246.70 86.67 L248.22 85.87 L249.75 85.07 L251.28 84.28 L252.80 83.49 L254.33 82.70 L255.85 81.91 L257.38 81.13 L258.91 80.34 L260.43 79.56 L261.96 78.79 L263.48 78.01 L265.01 77.24 L266.54 76.47 L268.06 75.71 L269.59 74.94 L271.12 74.18 L272.64 73.42 L274.17 72.67 L275.69 71.92 L277.22 71.16 L278.75 70.42 L280.27 69.67 L281.80 68.93 L283.33 68.19 L284.85 67.45 L286.38 66.71 L287.90 65.98 L289.43 65.25 L290.96 64.52 L292.48 63.80 L294.01 63.08 L295.54 62.36 L297.06 61.64 L298.59 60.93 L300.11 60.21 L301.64 59.50 L303.17 58.80 L304.69 58.09 L306.22 57.39 L307.75 56.69 L309.27 56.00 L310.80 55.30 L312.32 54.61 L313.85 53.93 L315.38 53.24 L316.90 52.56 L318.43 51.88 L319.95 51.20 L321.48 50.53 L323.01 49.86 L324.53 49.19 L326.06 48.53 L327.59 47.87 L329.11 47.21 L330.64 46.56 L332.16 45.91 L333.69 45.26 L335.22 44.62 L336.74 43.98 L338.27 43.34 L339.80 42.71 L341.32 42.09 L342.85 41.47 L344.37 40.85 L345.90 40.24 L347.43 39.64 L348.95 39.05 L350.48 38.47" stroke="#ff8000" stroke-dasharray="1.55 1.78" stroke-dashoffset="1.75"/>
<path d="M36.80 99.62 L39.75 99.33 L42.70 99.03" stroke="#ff8000"/>
<path d="M44.45 98.85 L45.96 98.69 L47.47 98.53 L48.97 98.37 L50.48 98.21 L51.99 98.04 L53.50 97.87 L55.00 97.71 L56.51 97.54 L58.02 97.36 L59.53 97.19 L61.03 97.02 L62.54 96.84 L64.05 96.66 L65.56 96.48 L67.06 96.30 L68.57 96.11 L70.08 95.93 L71.59 95.74 L73.09 95.56 L74.60 95.37 L76.11 95.18 L77.62 94.98 L79.12 94.79 L80.63 94.59 L82.14 94.40 L83.65 94.20 L85.15 94.00 L86.66 93.80 L88.17 93.60 L89.68 93.39 L91.18 93.19 L92.69 92.98 L94.20 92.77 L95.71 92.56 L97.21 92.35 L98.72 92.14 L100.23 91.93 L101.74 91.71 L103.24 91.50 L104.75 91.28 L106.26 91.06 L107.77 90.84 L109.27 90.62 L110.78 90.40 L112.29 90.18 L113.80 89.95 L115.30 89.73 L116.81 89.50 L118.32 89.27 L119.83 89.04 L121.33 88.81 L122.84 88.58 L124.35 88.35 L125.86 88.11 L127.36 87.88 L128.87 87.64 L130.38 87.41 L131.89 87.17 L133.39 86.93 L134.90 86.69 L136.41 86.45 L137.92 86.20 L139.42 85.96 L140.93 85.71 L142.44 85.47 L143.95 85.22 L145.45 84.97 L146.96 84.72 L148.47 84.47 L149.98 84.22 L151.48 83.97 L152.99 83.72 L154.50 83.46 L156.01 83.21 L157.52 82.95 L159.02 82.69 L160.53 82.43 L162.04 82.17 L163.55 81.91 L165.05 81.65 L166.56 81.39 L168.07 81.13 L169.58 80.86 L171.08 80.59 L172.59 80.33 L174.10 80.06 L175.61 79.79 L177.11 79.52 L178.62 79.25 L180.13 78.98 L181.64 78.71 L183.14 78.43 L184.65 78.16 L186.16 77.88 L187.67 77.60 L189.17 77.32 L190.68 77.05 L192.19 76.76 L193.70 76.48 L195.20 76.20 L196.71 75.92 L198.22 75.63 L199.73 75.35 L201.23 75.06 L202.74 74.77 L204.25 74.48 L205.76 74.19 L207.26 73.90 L208.77 73.61 L210.28 73.32 L211.79 73.02 L213.29 72.73 L214.80 72.43 L216.31 72.13 L217.82 71.83 L219.32 71.53 L220.83 71.23 L222.34 70.93 L223.85 70.62 L225.35 70.32 L226.86 70.01 L228.37 69.70 L229.88 69.40 L231.38 69.09 L232.89 68.77 L234.40 68.46 L235.91 68.27 L237.41 68.41 L238.92 68.55 L240.43 68.68 L241.94 68.82 L243.44 66.56 L244.95 66.24 L246.46 65.91 L247.97 65.59 L249.47 65.26 L250.98 64.93 L252.49 64.61 L254.00 64.28 L255.50 63.94 L257.01 63.61 L258.52 63.27 L260.03 62.94 L261.53 62.60 L263.04 62.26 L264.55 61.92 L266.06 61.57 L267.57 61.23 L269.07 60.88 L270.58 60.54 L272.09 60.19 L273.60 59.83 L275.10 59.48 L276.61 59.12 L278.12 58.77 L279.63 58.41 L281.13 58.05 L282.64 57.68 L284.15 57.32 L285.66 56.95 L287.16 56.58 L288.67 56.21 L290.18 55.84 L291.69 55.46 L293.19 55.09 L294.70 54.71 L296.21 54.33 L297.72 53.94 L299.22 53.55 L300.73 53.17 L302.24 52.77 L303.75 52.38 L305.25 51.98 L306.76 51.59 L308.27 51.18 L309.78 50.78 L311.28 50.37 L312.79 49.96 L314.30 49.55 L315.81 49.13 L317.31 48.72 L318.82 48.29 L320.33 47.87 L321.84 47.44 L323.34 47.01 L324.85 46.57 L326.36 46.14 L327.87 45.69 L329.37 45.25 L330.88 44.80 L332.39 44.34 L333.90 43.89 L335.40 43.42 L336.91 42.96 L338.42 42.48 L339.93 42.01 L341.43 41.52 L342.94 41.03 L344.45 40.54 L345.96 40.04 L347.46 39.53 L348.97 39.01 L350.48 38.47" stroke="#ff8000" stroke-dasharray="3.5 1.75"/>
<path d="M35.50 214.54 L37.02 213.40 L38.55 212.26 L40.07 211.13 L41.59 210.00 L43.12 208.87 L44.64 207.75 L46.17 206.62 L47.69 205.50 L49.21 204.39 L50.74 203.27 L52.26 202.16 L53.78 201.05 L55.31 199.95 L56.83 198.84 L58.35 197.74 L59.88 196.65 L61.40 195.55 L62.92 194.46 L64.45 193.37 L65.97 192.29 L67.50 191.21 L69.02 190.13 L70.54 189.05 L72.07 187.98 L73.59 186.90 L75.11 185.84 L76.64 184.77 L78.16 183.71 L79.68 182.65 L81.21 181.60 L82.73 180.54 L84.26 179.49 L85.78 178.45 L87.30 177.40 L88.83 176.36 L90.35 175.32 L91.87 174.29 L93.40 173.26 L94.92 172.23 L96.44 171.20 L97.97 170.18 L99.49 169.16 L101.01 168.14 L102.54 167.13 L104.06 166.12 L105.59 165.11 L107.11 164.10 L108.63 163.10 L110.16 162.10 L111.68 161.11 L113.20 160.11 L114.73 159.12 L116.25 158.14 L117.77 157.15 L119.30 156.17 L120.82 155.20 L122.34 154.22 L123.87 153.25 L125.39 152.28 L126.92 151.32 L128.44 150.36 L129.96 149.40 L131.49 148.44 L133.01 147.49 L134.53 146.54 L136.06 145.59 L137.58 144.65 L139.10 143.71 L140.63 142.77 L142.15 141.84 L143.68 140.91 L145.20 139.98 L146.72 139.05 L148.25 138.13 L149.77 137.21 L151.29 136.30 L152.82 135.38 L154.34 134.47 L155.86 133.57 L157.39 132.66 L158.91 131.76 L160.43 130.87 L161.96 129.97 L163.48 129.08 L165.01 128.19 L166.53 127.31 L168.05 126.42 L169.58 125.55 L171.10 124.67" stroke="#ff00ff"/>
<path d="M177.50 121.02 L179.02 120.17 L180.54 119.31 L182.06 118.46 L183.58 117.61 L185.10 116.76 L186.63 115.92 L188.15 115.08 L189.67 114.24 L191.19 113.41 L192.71 112.57 L194.23 111.75 L195.75 110.92 L197.27 110.10 L198.79 109.28 L200.31 108.46 L201.84 107.65 L203.36 106.84 L204.88 106.03 L206.40 105.23 L207.92 104.43 L209.44 103.63 L210.96 102.83 L212.48 102.04 L214.00 101.25 L215.53 100.46 L217.05 99.68 L218.57 98.90 L220.09 98.12 L221.61 97.35 L223.13 96.58 L224.65 95.81 L226.17 95.04 L227.69 94.28 L229.21 93.52 L230.74 92.76 L232.26 92.01 L233.78 91.26 L235.30 90.51 L236.82 89.76 L238.34 89.02 L239.86 88.28 L241.38 87.54 L242.90 86.81 L244.42 86.08 L245.94 85.35 L247.47 84.63 L248.99 83.91 L250.51 83.19 L252.03 82.47 L253.55 81.76 L255.07 81.05 L256.59 80.34 L258.11 79.64 L259.63 78.94 L261.15 78.24 L262.68 77.54 L264.20 76.85 L265.72 76.16 L267.24 75.47 L268.76 74.79 L270.28 74.11 L271.80 73.43 L273.32 72.76 L274.84 72.09 L276.37 71.42 L277.89 70.75 L279.41 70.09 L280.93 69.43 L282.45 68.77 L283.97 68.12 L285.49 67.47 L287.01 66.82 L288.53 66.18 L290.05 65.54 L291.57 64.90 L293.10 64.26 L294.62 63.63 L296.14 63.00 L297.66 62.38 L299.18 61.76 L300.70 61.14 L302.22 60.52 L303.74 59.91 L305.26 59.31 L306.79 58.70 L308.31 58.10 L309.83 57.50 L311.35 56.91 L312.87 56.32 L314.39 55.74 L315.91 55.16 L317.43 54.58 L318.95 54.01 L320.47 53.45 L322.00 52.89 L323.52 52.33 L325.04 51.79 L326.56 51.25 L328.08 50.72 L329.60 50.20" stroke="#ff00ff" stroke-dasharray="1.55 1.78" stroke-dashoffset="0.4"/>
<path d="M37.00 101.42 L39.95 101.15 L42.90 100.87" stroke="#ff00ff"/>
<path d="M44.65 100.71 L46.17 100.56 L47.68 100.41 L49.20 100.26 L50.71 100.11 L52.23 99.95 L53.74 99.80 L55.26 99.64 L56.78 99.48 L58.29 99.32 L59.81 99.16 L61.32 99.00 L62.84 98.84 L64.35 98.67 L65.87 98.50 L67.39 98.33 L68.90 98.16 L70.42 97.99 L71.93 97.82 L73.45 97.65 L74.96 97.47 L76.48 97.29 L78.00 97.11 L79.51 96.93 L81.03 96.75 L82.54 96.57 L84.06 96.39 L85.57 96.20 L87.09 96.01 L88.61 95.83 L90.12 95.64 L91.64 95.45 L93.15 95.26 L94.67 95.06 L96.18 94.87 L97.70 94.68 L99.21 94.48 L100.73 94.28 L102.25 94.08 L103.76 93.88 L105.28 93.68 L106.79 93.48 L108.31 93.28 L109.82 93.07 L111.34 92.87 L112.86 92.66 L114.37 92.45 L115.89 92.24 L117.40 92.03 L118.92 91.82 L120.43 91.61 L121.95 91.40 L123.47 91.18 L124.98 90.97 L126.50 90.75 L128.01 90.53 L129.53 90.32 L131.04 90.10 L132.56 89.88 L134.08 89.65 L135.59 89.43 L137.11 89.21 L138.62 88.98 L140.14 88.76 L141.65 88.53 L143.17 88.30 L144.69 88.07 L146.20 87.84 L147.72 87.61 L149.23 87.38 L150.75 87.15 L152.26 86.91 L153.78 86.68 L155.30 86.44 L156.81 86.21 L158.33 85.97 L159.84 85.73 L161.36 85.49 L162.87 85.25 L164.39 85.01 L165.91 84.77 L167.42 84.52 L168.94 84.28 L170.45 84.03 L171.97 83.78 L173.48 83.54 L175.00 83.29 L176.52 83.04 L178.03 82.79 L179.55 82.54 L181.06 82.28 L182.58 82.03 L184.09 81.77 L185.61 81.52 L187.13 81.26 L188.64 81.00 L190.16 80.74 L191.67 80.48 L193.19 80.22 L194.70 79.96 L196.22 79.70 L197.73 79.43 L199.25 79.17 L200.77 78.90 L202.28 78.63 L203.80 78.36 L205.31 78.09 L206.83 77.82 L208.34 77.55 L209.86 77.28 L211.38 77.00 L212.89 76.73 L214.41 76.45 L215.92 76.17 L217.44 75.89 L218.95 75.61 L220.47 75.33 L221.99 75.05 L223.50 74.77 L225.02 74.48 L226.53 74.19 L228.05 73.91 L229.56 73.62 L231.08 73.33 L232.60 73.04 L234.11 72.74 L235.63 72.45 L237.14 72.15 L238.66 71.86 L240.17 71.56 L241.69 71.26 L243.21 70.96 L244.72 70.65 L246.24 70.35 L247.75 70.04 L249.27 69.73 L250.78 69.43 L252.30 69.12 L253.82 68.80 L255.33 68.49 L256.85 68.17 L258.36 67.86 L259.88 67.54 L261.39 67.22 L262.91 66.90 L264.43 66.57 L265.94 66.25 L267.46 65.92 L268.97 65.59 L270.49 65.26 L272.00 64.92 L273.52 64.59 L275.04 64.25 L276.55 63.91 L278.07 63.57 L279.58 63.23 L281.10 62.88 L282.61 62.53 L284.13 62.18 L285.64 61.83 L287.16 61.47 L288.68 61.12 L290.19 60.76 L291.71 60.39 L293.22 60.03 L294.74 59.66 L296.25 59.29 L297.77 58.92 L299.29 58.54 L300.80 58.16 L302.32 57.78 L303.83 57.40 L305.35 57.01 L306.86 56.62 L308.38 56.22 L309.90 55.82 L311.41 55.42 L312.93 55.02 L314.44 54.61 L315.96 54.19 L317.47 53.77 L318.99 53.35 L320.51 52.92 L322.02 52.49 L323.54 52.05 L325.05 51.60 L326.57 51.14 L328.08 50.68 L329.60 50.20" stroke="#ff00ff" stroke-dasharray="3.5 1.75"/>
</g>
<g stroke="#848484" stroke-width="0.65" fill="none">
<rect x="35.5" y="3.5" width="351.8" height="247.8"/>
<line x1="35.80" x2="35.80" y1="251.3" y2="249.8"/>
<line x1="35.80" x2="35.80" y1="3.5" y2="5.0"/>
<line x1="49.30" x2="49.30" y1="251.3" y2="249.8"/>
<line x1="49.30" x2="49.30" y1="3.5" y2="5.0"/>
<line x1="62.80" x2="62.80" y1="251.3" y2="249.8"/>
<line x1="62.80" x2="62.80" y1="3.5" y2="5.0"/>
<line x1="76.30" x2="76.30" y1="251.3" y2="248.70000000000002"/>
<line x1="76.30" x2="76.30" y1="3.5" y2="6.1"/>
<line x1="89.80" x2="89.80" y1="251.3" y2="249.8"/>
<line x1="89.80" x2="89.80" y1="3.5" y2="5.0"/>
<line x1="103.30" x2="103.30" y1="251.3" y2="249.8"/>
<line x1="103.30" x2="103.30" y1="3.5" y2="5.0"/>
<line x1="116.80" x2="116.80" y1="251.3" y2="249.8"/>
<line x1="116.80" x2="116.80" y1="3.5" y2="5.0"/>
<line x1="130.30" x2="130.30" y1="251.3" y2="249.8"/>
<line x1="130.30" x2="130.30" y1="3.5" y2="5.0"/>
<line x1="143.80" x2="143.80" y1="251.3" y2="248.70000000000002"/>
<line x1="143.80" x2="143.80" y1="3.5" y2="6.1"/>
<line x1="157.30" x2="157.30" y1="251.3" y2="249.8"/>
<line x1="157.30" x2="157.30" y1="3.5" y2="5.0"/>
<line x1="170.80" x2="170.80" y1="251.3" y2="249.8"/>
<line x1="170.80" x2="170.80" y1="3.5" y2="5.0"/>
<line x1="184.30" x2="184.30" y1="251.3" y2="249.8"/>
<line x1="184.30" x2="184.30" y1="3.5" y2="5.0"/>
<line x1="197.80" x2="197.80" y1="251.3" y2="249.8"/>
<line x1="197.80" x2="197.80" y1="3.5" y2="5.0"/>
<line x1="211.30" x2="211.30" y1="251.3" y2="248.70000000000002"/>
<line x1="211.30" x2="211.30" y1="3.5" y2="6.1"/>
<line x1="224.80" x2="224.80" y1="251.3" y2="249.8"/>
<line x1="224.80" x2="224.80" y1="3.5" y2="5.0"/>
<line x1="238.30" x2="238.30" y1="251.3" y2="249.8"/>
<line x1="238.30" x2="238.30" y1="3.5" y2="5.0"/>
<line x1="251.80" x2="251.80" y1="251.3" y2="249.8"/>
<line x1="251.80" x2="251.80" y1="3.5" y2="5.0"/>
<line x1="265.30" x2="265.30" y1="251.3" y2="249.8"/>
<line x1="265.30" x2="265.30" y1="3.5" y2="5.0"/>
<line x1="278.80" x2="278.80" y1="251.3" y2="248.70000000000002"/>
<line x1="278.80" x2="278.80" y1="3.5" y2="6.1"/>
<line x1="292.30" x2="292.30" y1="251.3" y2="249.8"/>
<line x1="292.30" x2="292.30" y1="3.5" y2="5.0"/>
<line x1="305.80" x2="305.80" y1="251.3" y2="249.8"/>
<line x1="305.80" x2="305.80" y1="3.5" y2="5.0"/>
<line x1="319.30" x2="319.30" y1="251.3" y2="249.8"/>
<line x1="319.30" x2="319.30" y1="3.5" y2="5.0"/>
<line x1="332.80" x2="332.80" y1="251.3" y2="249.8"/>
<line x1="332.80" x2="332.80" y1="3.5" y2="5.0"/>
<line x1="346.30" x2="346.30" y1="251.3" y2="248.70000000000002"/>
<line x1="346.30" x2="346.30" y1="3.5" y2="6.1"/>
<line x1="359.80" x2="359.80" y1="251.3" y2="249.8"/>
<line x1="359.80" x2="359.80" y1="3.5" y2="5.0"/>
<line x1="373.30" x2="373.30" y1="251.3" y2="249.8"/>
<line x1="373.30" x2="373.30" y1="3.5" y2="5.0"/>
<line x1="386.80" x2="386.80" y1="251.3" y2="249.8"/>
<line x1="386.80" x2="386.80" y1="3.5" y2="5.0"/>
<line x1="35.5" x2="37.0" y1="250.49" y2="250.49"/>
<line x1="387.3" x2="385.8" y1="250.49" y2="250.49"/>
<line x1="35.5" x2="38.1" y1="238.95" y2="238.95"/>
<line x1="387.3" x2="384.7" y1="238.95" y2="238.95"/>
<line x1="35.5" x2="37.0" y1="227.41" y2="227.41"/>
<line x1="387.3" x2="385.8" y1="227.41" y2="227.41"/>
<line x1="35.5" x2="37.0" y1="215.87" y2="215.87"/>
<line x1="387.3" x2="385.8" y1="215.87" y2="215.87"/>
<line x1="35.5" x2="37.0" y1="204.33" y2="204.33"/>
<line x1="387.3" x2="385.8" y1="204.33" y2="204.33"/>
<line x1="35.5" x2="37.0" y1="192.79" y2="192.79"/>
<line x1="387.3" x2="385.8" y1="192.79" y2="192.79"/>
<line x1="35.5" x2="38.1" y1="181.25" y2="181.25"/>
<line x1="387.3" x2="384.7" y1="181.25" y2="181.25"/>
<line x1="35.5" x2="37.0" y1="169.71" y2="169.71"/>
<line x1="387.3" x2="385.8" y1="169.71" y2="169.71"/>
<line x1="35.5" x2="37.0" y1="158.17" y2="158.17"/>
<line x1="387.3" x2="385.8" y1="158.17" y2="158.17"/>
<line x1="35.5" x2="37.0" y1="146.63" y2="146.63"/>
<line x1="387.3" x2="385.8" y1="146.63" y2="146.63"/>
<line x1="35.5" x2="37.0" y1="135.09" y2="135.09"/>
<line x1="387.3" x2="385.8" y1="135.09" y2="135.09"/>
<line x1="35.5" x2="38.1" y1="123.55" y2="123.55"/>
<line x1="387.3" x2="384.7" y1="123.55" y2="123.55"/>
<line x1="35.5" x2="37.0" y1="112.01" y2="112.01"/>
<line x1="387.3" x2="385.8" y1="112.01" y2="112.01"/>
<line x1="35.5" x2="37.0" y1="100.47" y2="100.47"/>
<line x1="387.3" x2="385.8" y1="100.47" y2="100.47"/>
<line x1="35.5" x2="37.0" y1="88.93" y2="88.93"/>
<line x1="387.3" x2="385.8" y1="88.93" y2="88.93"/>
<line x1="35.5" x2="37.0" y1="77.39" y2="77.39"/>
<line x1="387.3" x2="385.8" y1="77.39" y2="77.39"/>
<line x1="35.5" x2="38.1" y1="65.85" y2="65.85"/>
<line x1="387.3" x2="384.7" y1="65.85" y2="65.85"/>
<line x1="35.5" x2="37.0" y1="54.31" y2="54.31"/>
<line x1="387.3" x2="385.8" y1="54.31" y2="54.31"/>
<line x1="35.5" x2="37.0" y1="42.77" y2="42.77"/>
<line x1="387.3" x2="385.8" y1="42.77" y2="42.77"/>
<line x1="35.5" x2="37.0" y1="31.23" y2="31.23"/>
<line x1="387.3" x2="385.8" y1="31.23" y2="31.23"/>
<line x1="35.5" x2="37.0" y1="19.69" y2="19.69"/>
<line x1="387.3" x2="385.8" y1="19.69" y2="19.69"/>
<line x1="35.5" x2="38.1" y1="8.15" y2="8.15"/>
<line x1="387.3" x2="384.7" y1="8.15" y2="8.15"/>
</g>
<g>
<g transform="translate(76.30,266.75) scale(0.86,1)"><text text-anchor="middle">0.8</text></g>
<g transform="translate(143.80,266.75) scale(0.86,1)"><text text-anchor="middle">0.9</text></g>
<g transform="translate(211.30,266.75) scale(0.86,1)"><text text-anchor="middle"><tspan class="h">1</tspan>.0</text><path class="g1" transform="translate(-10.496,0) scale(0.007373,-0.007373)" d="M785 0H605V1100Q540 1040 435 980Q330 920 245 890V1060Q395 1130 510 1225Q625 1320 670 1409H785Z"/></g>
<g transform="translate(278.80,266.75) scale(0.86,1)"><text text-anchor="middle"><tspan class="h">1</tspan>.<tspan class="h">1</tspan></text><path class="g1" transform="translate(-10.496,0) scale(0.007373,-0.007373)" d="M785 0H605V1100Q540 1040 435 980Q330 920 245 890V1060Q395 1130 510 1225Q625 1320 670 1409H785Z"/><path class="g1" transform="translate(2.098,0) scale(0.007373,-0.007373)" d="M785 0H605V1100Q540 1040 435 980Q330 920 245 890V1060Q395 1130 510 1225Q625 1320 670 1409H785Z"/></g>
<g transform="translate(346.30,266.75) scale(0.86,1)"><text text-anchor="middle"><tspan class="h">1</tspan>.2</text><path class="g1" transform="translate(-10.496,0) scale(0.007373,-0.007373)" d="M785 0H605V1100Q540 1040 435 980Q330 920 245 890V1060Q395 1130 510 1225Q625 1320 670 1409H785Z"/></g>
<g transform="translate(33.20,14.00) scale(0.86,1)"><text text-anchor="end">2</text></g>
<g transform="translate(33.20,71.05) scale(0.86,1)"><text text-anchor="end"><tspan class="h">1</tspan></text><path class="g1" transform="translate(-8.398,0) scale(0.007373,-0.007373)" d="M785 0H605V1100Q540 1040 435 980Q330 920 245 890V1060Q395 1130 510 1225Q625 1320 670 1409H785Z"/></g>
<g transform="translate(33.20,128.75) scale(0.86,1)"><text text-anchor="end">0</text></g>
<g transform="translate(33.20,186.45) scale(0.86,1)"><text text-anchor="end"><tspan class="h">−</tspan><tspan class="h">1</tspan></text><path class="g1" transform="translate(-17.216,0) scale(0.007373,-0.007373)" d="M101 452H1005V612H101Z"/><path class="g1" transform="translate(-8.398,0) scale(0.007373,-0.007373)" d="M785 0H605V1100Q540 1040 435 980Q330 920 245 890V1060Q395 1130 510 1225Q625 1320 670 1409H785Z"/></g>
<g transform="translate(33.20,244.80) scale(0.86,1)"><text text-anchor="end"><tspan class="h">−</tspan>2</text><path class="g1" transform="translate(-17.216,0) scale(0.007373,-0.007373)" d="M101 452H1005V612H101Z"/></g>
<g transform="translate(211.20,287.70) scale(0.86,1)"><text text-anchor="middle">L</text></g>
<g transform="translate(12.10,127.60) scale(0.86,1) rotate(-90)"><text text-anchor="middle">ΔF</text></g>
</g>
</svg>
</body></html>
